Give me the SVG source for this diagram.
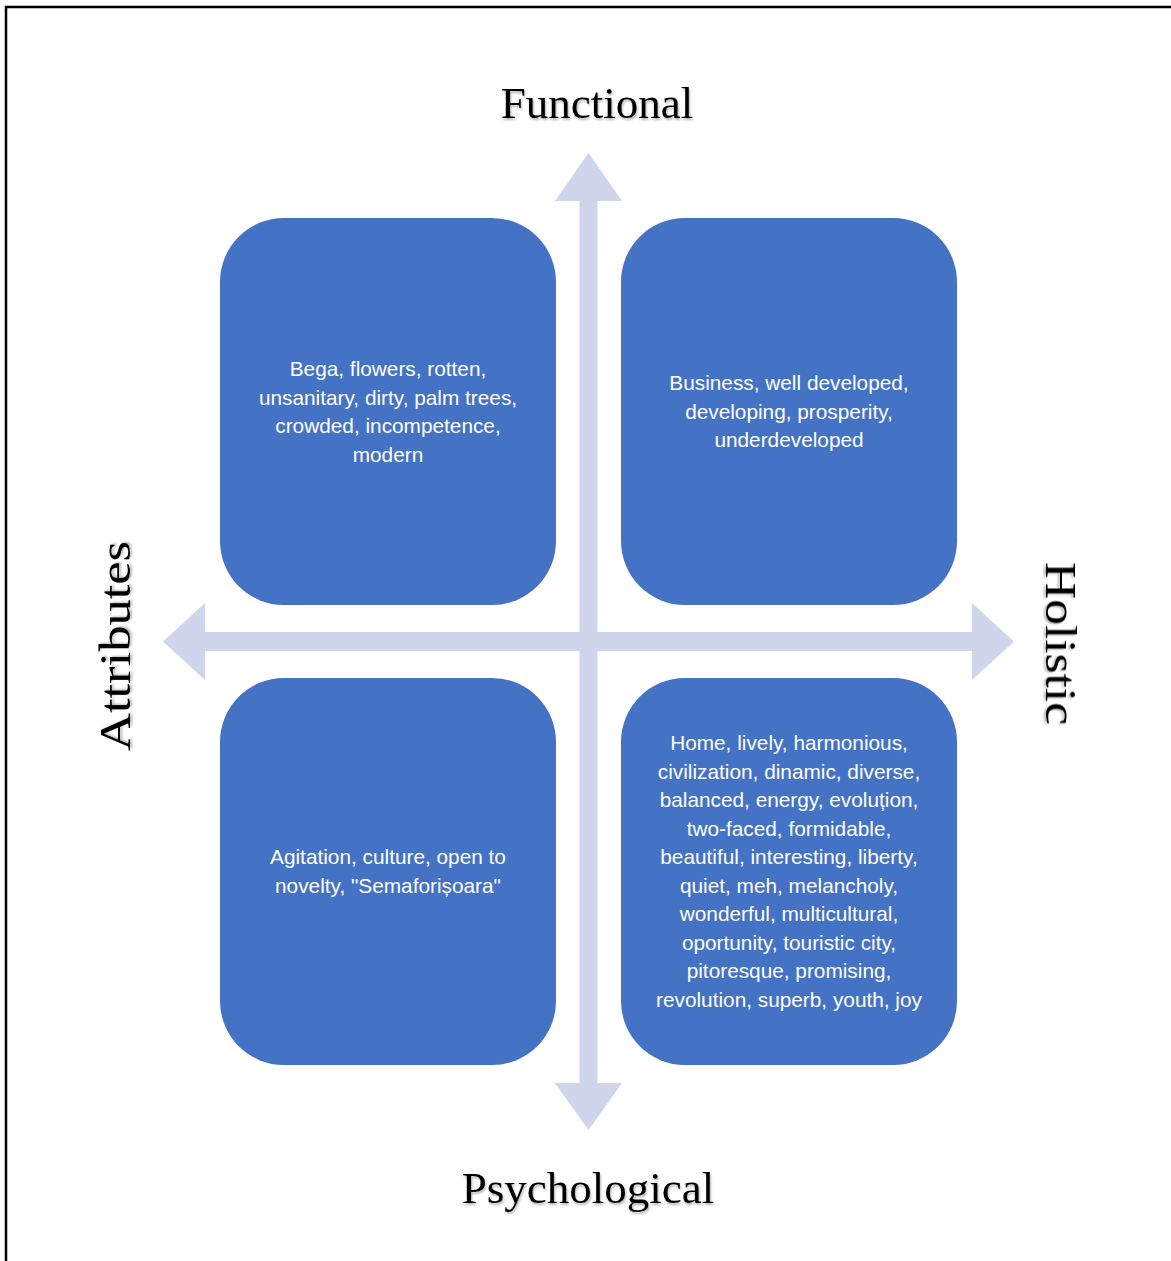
<svg xmlns="http://www.w3.org/2000/svg" width="1171" height="1261" viewBox="0 0 1171 1261">
<defs>
<style>
.box{fill:#4472C4;}
.arrow{fill:#CFD5EA;}
.bt{font-family:"Liberation Sans",Arial,sans-serif;font-size:20.8px;fill:#FFFFFF;text-anchor:middle;}
.title{font-family:"Liberation Serif","Times New Roman",serif;font-size:45px;fill:#000000;text-anchor:middle;filter:url(#sh);}
</style>
<filter id="sh" x="-10%" y="-30%" width="120%" height="160%">
<feDropShadow dx="1" dy="2" stdDeviation="1.2" flood-color="#000000" flood-opacity="0.3"/>
</filter>
</defs>
<rect x="0" y="0" width="1171" height="1261" fill="#FFFFFF"/>
<path d="M6,1261 V7 H1171" fill="none" stroke="#000000" stroke-width="2.5"/>

<g id="connectors">
<path class="arrow" d="M588.5,153 L622,201 L597.5,201 L597.5,1083 L622,1083 L588.5,1130 L555,1083 L579.5,1083 L579.5,201 L555,201 Z"/>
<path class="arrow" d="M163,641.5 L205,603 L205,632 L972,632 L972,603 L1014,641.5 L972,680 L972,651 L205,651 L205,680 Z"/>
</g>

<g id="node-tl">
<rect class="box" x="220" y="218" width="336" height="387" rx="64" ry="64"/>
<text class="bt"><tspan x="388" y="376">Bega, flowers, rotten,</tspan><tspan x="388" y="404.5">unsanitary, dirty, palm trees,</tspan><tspan x="388" y="433">crowded, incompetence,</tspan><tspan x="388" y="461.5">modern</tspan></text>
</g>

<g id="node-tr">
<rect class="box" x="621" y="218" width="336" height="387" rx="64" ry="64"/>
<text class="bt"><tspan x="789" y="390">Business, well developed,</tspan><tspan x="789" y="418.5">developing, prosperity,</tspan><tspan x="789" y="447">underdeveloped</tspan></text>
</g>

<g id="node-bl">
<rect class="box" x="220" y="678" width="336" height="387" rx="64" ry="64"/>
<text class="bt"><tspan x="388" y="864">Agitation, culture, open to</tspan><tspan x="388" y="892.5">novelty, "Semaforișoara"</tspan></text>
</g>

<g id="node-br">
<rect class="box" x="621" y="678" width="336" height="387" rx="64" ry="64"/>
<text class="bt"><tspan x="789" y="750">Home, lively, harmonious,</tspan><tspan x="789" y="778.5">civilization, dinamic, diverse,</tspan><tspan x="789" y="807">balanced, energy, evoluțion,</tspan><tspan x="789" y="835.5">two-faced, formidable,</tspan><tspan x="789" y="864">beautiful, interesting, liberty,</tspan><tspan x="789" y="892.5">quiet, meh, melancholy,</tspan><tspan x="789" y="921">wonderful, multicultural,</tspan><tspan x="789" y="949.5">oportunity, touristic city,</tspan><tspan x="789" y="978">pitoresque, promising,</tspan><tspan x="789" y="1006.5">revolution, superb, youth, joy</tspan></text>
</g>

<g id="label-functional">
<text class="title" x="597" y="118">Functional</text>
</g>
<g id="label-psychological">
<text class="title" x="588" y="1203">Psychological</text>
</g>
<g id="label-attributes">
<text class="title" transform="translate(130,646) rotate(-90)" x="0" y="0" textLength="210" lengthAdjust="spacingAndGlyphs">Attributes</text>
</g>
<g id="label-holistic">
<text class="title" transform="translate(1046,643.5) rotate(90)" x="0" y="0" textLength="163" lengthAdjust="spacingAndGlyphs">Holistic</text>
</g>
</svg>
